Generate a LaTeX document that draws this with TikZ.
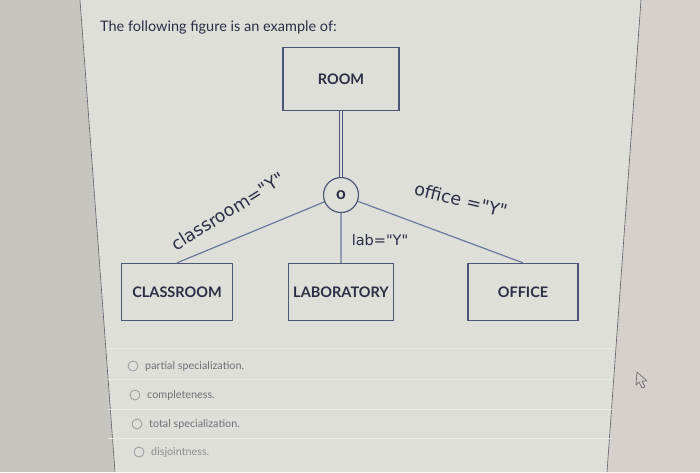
\documentclass[tikz,border=0pt]{standalone}
\usepackage{fontspec}
\setmainfont{Lato}
\newfontfamily\tagfont{DejaVu Sans}
\usetikzlibrary{positioning}

\definecolor{leftbg}{HTML}{C6C6BE}
\definecolor{pagebg}{HTML}{DEDFD9}
\definecolor{rightbg}{HTML}{D5D0CB}
\definecolor{edge}{HTML}{5E6068}
\definecolor{ink}{HTML}{2B2E45}
\definecolor{boxline}{HTML}{4E5678}
\definecolor{linkline}{HTML}{6A789E}
\definecolor{optgrey}{HTML}{6E7076}

\begin{document}
\begin{tikzpicture}[x=1pt,y=-1pt,node distance=100pt,on grid,
  entity/.style={draw=boxline,line width=1.3pt,minimum height=57pt,inner sep=0pt,
    text=ink,font=\fontsize{14.5}{16}\selectfont\bfseries},
  link/.style={draw=linkline,line width=1.2pt},
  tag/.style={text=ink,font=\tagfont\fontsize{14.5}{17}\selectfont,inner sep=1pt},
  bigtag/.style={tag,font=\tagfont\fontsize{17.5}{20}\selectfont},
  choice/.style={text=optgrey,font=\fontsize{10.8}{12}\selectfont,anchor=west,inner sep=0pt},
  radio/.style={draw=optgrey!70,line width=0.8pt,fill=pagebg}]
  \useasboundingbox (0,0) rectangle (700,472);
  % screen background
  \fill[leftbg] (0,0) rectangle (700,472);
  \fill[pagebg] (80,0) -- (641,0) -- (607,472) -- (115,472) -- cycle;
  \fill[rightbg] (641,0) -- (700,0) -- (700,472) -- (607,472) -- cycle;
  \draw[edge,line width=0.6pt] (80,0) -- (115,472);
  \draw[edge,line width=0.6pt] (641,0) -- (607,472);
  \foreach \y in {348,379,409,438}
    \draw[white!35!pagebg,line width=0.6pt] (108,\y) -- (612,\y);

  \node[anchor=base west,text=ink,font=\fontsize{14.5}{17}\selectfont,inner sep=0pt]
    (question) at (100,31) {The following figure is an example of:};

  % the diagram
  \node[entity,minimum width=116pt,minimum height=63pt] (room) at (341,79) {ROOM};
  \node[draw=boxline,line width=1.2pt,circle,minimum size=35pt,inner sep=0pt,
    text=ink,font=\fontsize{17}{19}\selectfont\bfseries] (disj) [below=116pt of room] {o};
  \node[entity,minimum width=105pt] (lab) [below=97pt of disj] {LABORATORY};
  \node[entity,minimum width=111pt] (cls) [left=164pt of lab] {CLASSROOM};
  \node[entity,minimum width=110pt] (off) [right=182pt of lab] {OFFICE};

  \draw[boxline,line width=1.1pt,double=pagebg,double distance=2.6pt] (room) -- (disj);
  \path[link] (disj) -- (cls.north)
              (disj) -- (lab)
              (disj) -- (off.north);

  \node[bigtag,rotate=32] (clstag) at (228,211) {classroom="Y"};
  \node[bigtag,rotate=-14] (offtag) at (461,200) {office ="Y"};
  \node[tag] (labtag) at (380,240) {lab="Y"};

  % answer choices
  \node[radio,circle,minimum size=10pt,inner sep=0pt] (r1) at (133,366) {};
  \node[choice] (c1) at (145,366) {partial specialization.};
  \node[radio,circle,minimum size=10pt,inner sep=0pt] (r2) at (135,395) {};
  \node[choice] (c2) at (147,395) {completeness.};
  \node[radio,circle,minimum size=10pt,inner sep=0pt] (r3) at (137,424) {};
  \node[choice] (c3) at (149,424) {total specialization.};
  \node[radio,circle,minimum size=10pt,inner sep=0pt] (r4) at (139,452) {};
  \node[choice,text=optgrey!80] (c4) at (151,452) {disjointness.};

  % mouse pointer
  \draw[optgrey,line width=0.7pt,fill=rightbg,line join=round]
    (637,372) -- (647,381) -- (642,381) -- (645,387) -- (642,388) -- (639,382) -- (636,385) -- cycle;
\end{tikzpicture}
\end{document}
